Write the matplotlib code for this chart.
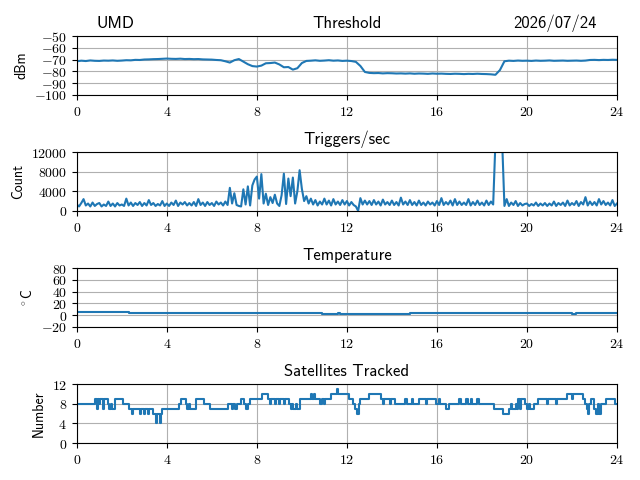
import numpy as np
import matplotlib
matplotlib.use('Agg')
import matplotlib.pyplot as plt
from matplotlib.ticker import FuncFormatter

plt.rcParams['font.family'] = ['cmss10', 'DejaVu Sans']
plt.rcParams['mathtext.fontset'] = 'cm'

site_name = 'UMD'
date_label = '2026/07/24'

# Threshold, one value every 0.2 h
threshold_dbm = [
    -71.5, -71.0, -71.3, -70.8, -71.1, -71.2, -70.9, -71.0, -70.8, -71.1,
    -70.9, -70.6, -70.7, -70.3, -70.4, -70.0, -69.9, -69.7, -69.6, -69.4,
    -69.2, -69.4, -69.5, -69.3, -69.6, -69.5, -69.7, -69.6, -69.9, -70.0,
    -70.1, -70.4, -70.6, -71.5, -72.6, -70.6, -69.6, -71.8, -74.0, -75.6,
    -76.0, -75.2, -73.2, -73.0, -72.6, -74.2, -76.6, -76.4, -78.6, -77.4,
    -73.0, -71.2, -71.0, -70.7, -71.1, -70.9, -70.6, -71.0, -70.8, -71.2,
    -71.0, -71.3, -72.0, -75.5, -80.6, -81.4, -81.6, -81.5, -81.8, -81.6,
    -81.7, -81.9, -81.8, -82.0, -81.8, -82.1, -81.9, -82.0, -82.2, -81.9,
    -82.1, -82.0, -82.2, -82.3, -82.1, -82.2, -82.4, -82.2, -82.3, -82.1,
    -82.3, -82.4, -82.6, -83.0, -79.0, -71.5, -71.0, -71.2, -70.9, -71.1,
    -71.0, -71.2, -70.9, -71.1, -71.0, -70.8, -71.1, -71.0, -70.9, -71.1,
    -71.0, -70.9, -71.1, -70.9, -70.4, -70.3, -70.5, -70.3, -70.4, -70.2,
    -70.3,
]
threshold_hours = np.linspace(0, 24, len(threshold_dbm))

# Triggers per second, one value every 0.1 h
triggers = [
    1300, 900, 1600, 2400, 1100, 1500, 900, 1700, 1000, 1400,
    1600, 900, 1300, 1000, 1900, 1000, 1500, 900, 1600, 1100,
    1300, 1000, 2500, 1100, 1700, 1000, 1600, 1200, 1800, 1000,
    1600, 1100, 2200, 1200, 1600, 1000, 1400, 1100, 2000, 1000,
    1500, 1000, 1700, 1200, 2100, 1000, 1700, 1300, 1800, 1100,
    1600, 1100, 1800, 1000, 2400, 1200, 1700, 1000, 1800, 1200,
    1600, 1000, 1900, 1300, 1700, 1100, 1900, 1200, 4700, 1500,
    3600, 1200, 1000, 900, 4400, 1300, 5000, 1100, 5200, 6400,
    7000, 2500, 7500, 1500, 3500, 1200, 2800, 1600, 3300, 1500,
    1000, 3200, 7600, 1400, 6600, 3000, 6800, 1500, 4000, 8300,
    4500, 2000, 3000, 1500, 2500, 1300, 2200, 1100, 1900, 1300,
    2500, 1300, 2100, 1100, 2400, 1300, 1900, 1200, 2200, 1300,
    2000, 1100, 1800, 1200, 900, 0, 2600, 1300, 2100, 1300,
    2000, 1200, 2200, 1300, 1900, 1100, 2300, 1300, 1800, 1200,
    2100, 1200, 1800, 1100, 2700, 1300, 1900, 1200, 2200, 1200,
    1800, 1100, 2100, 1200, 1700, 1100, 1900, 1300, 1700, 1100,
    2000, 1200, 2600, 1200, 1800, 1300, 2100, 1100, 2400, 1200,
    1900, 1200, 1700, 1200, 2400, 1100, 1800, 1200, 2100, 1200,
    1700, 1100, 2100, 1200, 1900, 1300, 14000, 14000, 14000, 14000,
    1000, 2400, 1000, 1700, 1200, 2000, 1000, 1600, 1100, 1400,
    1500, 1000, 1400, 1100, 1700, 1000, 1500, 1100, 1600, 1000,
    1500, 1100, 1900, 1000, 1600, 1200, 1700, 1000, 2100, 1100,
    1600, 1200, 2000, 1000, 1800, 1300, 2800, 1100, 1900, 1200,
    1800, 1100, 2400, 1300, 2000, 1200, 1700, 1100, 2200, 1000,
    1500,
]
trigger_hours = np.linspace(0, 24, len(triggers))

# Temperature, change points
temp_hours = [0.0, 2.3, 10.9, 11.6, 11.7, 14.8, 22.0, 22.2, 24.0]
temp_celsius = [5.0, 3.0, 1.5, 3.0, 2.0, 3.5, 2.5, 3.5, 3.5]

# Satellites tracked, change points
sat_hours = [
    0.0, 0.8, 0.9, 0.95, 1.0, 1.05, 1.15, 1.2, 1.4, 1.45,
    1.5, 1.55, 1.7, 2.05, 2.3, 2.45, 2.5, 2.8, 2.85, 3.0,
    3.05, 3.15, 3.2, 3.4, 3.5, 3.55, 3.7, 3.75, 3.8, 4.55,
    4.65, 4.85, 4.9, 5.0, 5.05, 5.3, 5.65, 5.9, 6.7, 6.9,
    6.95, 7.05, 7.1, 7.3, 7.45, 7.5, 7.6, 7.7, 8.25, 8.5,
    8.6, 8.65, 8.8, 8.85, 9.0, 9.05, 9.2, 9.25, 9.45, 9.5,
    9.55, 9.6, 9.75, 9.8, 9.9, 10.4, 10.45, 10.55, 10.6, 10.8,
    10.9, 11.0, 11.05, 11.3, 11.55, 11.6, 12.1, 12.25, 12.35, 12.45,
    12.55, 12.6, 13.0, 13.5, 13.6, 13.65, 13.9, 13.95, 14.15, 14.6,
    14.65, 14.9, 14.95, 15.2, 15.5, 15.55, 15.95, 16.1, 16.15, 16.4,
    16.55, 17.0, 17.05, 17.3, 17.4, 17.5, 17.55, 17.8, 17.85, 18.55,
    18.95, 19.2, 19.3, 19.35, 19.5, 19.55, 19.6, 19.7, 19.75, 19.9,
    20.0, 20.1, 20.15, 20.3, 20.5, 20.9, 20.95, 21.3, 21.35, 21.8,
    22.0, 22.05, 22.5, 22.6, 22.65, 22.7, 22.75, 22.85, 23.0, 23.05,
    23.15, 23.2, 23.3, 23.5, 23.9, 24.0,
]
sat_count = [
    8, 9, 7, 9, 8, 9, 7, 9, 8, 7,
    8, 7, 9, 8, 7, 6, 7, 6, 7, 6,
    7, 6, 7, 6, 4, 6, 4, 6, 7, 8,
    9, 8, 7, 8, 7, 9, 8, 7, 8, 7,
    8, 7, 8, 9, 8, 7, 8, 9, 10, 9,
    8, 9, 8, 9, 8, 9, 8, 9, 8, 7,
    8, 7, 8, 7, 9, 10, 9, 10, 9, 8,
    9, 8, 9, 10, 11, 10, 9, 8, 7, 6,
    8, 9, 10, 9, 8, 9, 8, 9, 8, 9,
    8, 9, 8, 9, 8, 9, 8, 9, 8, 7,
    8, 9, 8, 9, 8, 9, 8, 9, 8, 7,
    6, 7, 8, 7, 8, 7, 9, 7, 9, 8,
    7, 8, 7, 8, 9, 8, 9, 8, 9, 10,
    9, 10, 9, 8, 7, 6, 8, 9, 7, 6,
    8, 6, 8, 9, 8, 8,
]

hour_ticks = [0, 4, 8, 12, 16, 20, 24]

# tick labels in serif math font, like the LaTeX original
math_fmt = FuncFormatter(lambda v, pos: '$%g$' % v)

fig, axes = plt.subplots(4, 1, figsize=(6.4, 4.8), dpi=100)
fig.subplots_adjust(left=0.12, right=0.964, top=0.925, bottom=0.077, hspace=0.975)

ax = axes[0]
ax.plot(threshold_hours, threshold_dbm)
ax.set_title('Threshold')
ax.set_ylabel('dBm')
ax.set_ylim(-100, -50)
ax.set_yticks(np.arange(-100, -49, 10))
ax.annotate(site_name, xy=(0.037, 1.0), xycoords='axes fraction',
            xytext=(0, 6), textcoords='offset points', fontsize=12,
            ha='left', va='baseline')
ax.annotate(date_label, xy=(0.963, 1.0), xycoords='axes fraction',
            xytext=(0, 6), textcoords='offset points', fontsize=12,
            ha='right', va='baseline')

ax = axes[1]
ax.plot(trigger_hours, triggers)
ax.set_title('Triggers/sec')
ax.set_ylabel('Count')
ax.set_ylim(0, 12000)
ax.set_yticks([0, 4000, 8000, 12000])

ax = axes[2]
ax.plot(temp_hours, temp_celsius, drawstyle='steps-post')
ax.set_title('Temperature')
ax.set_ylabel('$^\\circ$C')
ax.set_ylim(-20, 80)
ax.set_yticks(np.arange(-20, 81, 20))

ax = axes[3]
ax.plot(sat_hours, sat_count, drawstyle='steps-post')
ax.set_title('Satellites Tracked')
ax.set_ylabel('Number')
ax.set_ylim(0, 12)
ax.set_yticks([0, 4, 8, 12])

for ax in axes:
    ax.set_xlim(0, 24)
    ax.set_xticks(hour_ticks)
    ax.xaxis.set_major_formatter(math_fmt)
    ax.yaxis.set_major_formatter(math_fmt)
    ax.grid(True)

fig.savefig('out.png')
